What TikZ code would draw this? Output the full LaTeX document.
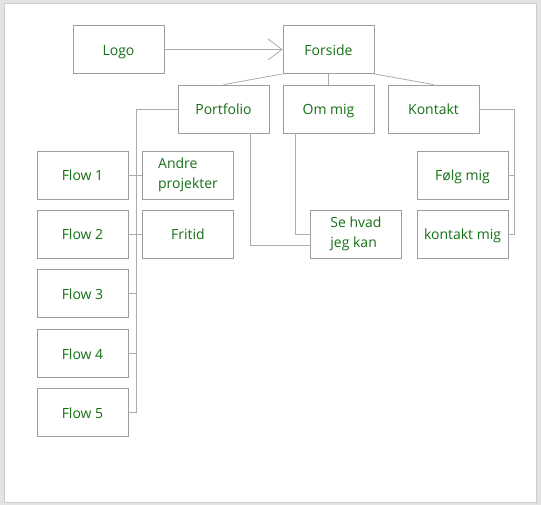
\documentclass[tikz,border=0pt]{standalone}
\usepackage{fontspec}
\setmainfont{Open Sans}
\usetikzlibrary{arrows.meta}
\definecolor{labelgreen}{RGB}{22,112,22}
\definecolor{boxgray}{RGB}{158,158,158}
\definecolor{linegray}{RGB}{172,172,172}
\tikzset{
  page/.style={x=1pt,y=-1pt,line width=0.8pt},
  box/.style={shape=rectangle,draw=boxgray,minimum width=91pt,minimum height=48pt,
    inner sep=0pt,text=labelgreen,font=\fontsize{14}{20.5}\selectfont,
    text height=12pt,text depth=0pt},
  twoline/.style={box,align=left,text height=,text depth=},
  wire/.style={draw=linegray,line width=0.8pt}
}

\begin{document}
\begin{tikzpicture}[page]
                % page frame
                \fill[gray!22](0, 0) rectangle (541, 505);
                \filldraw[fill=white,draw=gray!40](4, 3) rectangle (536.5, 502);
                \node[box](Logo)at(118.5, 49.5){Logo};
                \node[box](Forside)at(328.5, 49.5){Forside};
                \node[box](Portfolio)at(223.5, 109){Portfolio};
                \node[box](OmMig)at(328.5, 109){Om mig};
                \node[box](Kontakt)at(433.5, 109){Kontakt};
                \node[box](Flow1)at(82.5, 175){Flow 1};
                \node[box](Flow2)at(82.5, 234){Flow 2};
                \node[box](Flow3)at(82.5, 293.5){Flow 3};
                \node[box](Flow4)at(82.5, 353){Flow 4};
                \node[box](Flow5)at(82.5, 412){Flow 5};
                \node[twoline](Andre)at(188, 175){Andre\\projekter};
                \node[box](Fritid)at(188, 234){Fritid};
                \node[twoline](SeHvad)at(356, 234){Se hvad\\jeg kan};
                \node[box](Foelg)at(462.5, 175){Følg mig};
                \node[box](KontaktMig)at(462.5, 234){kontakt mig};
                \coordinate(PortBus)at(136, 412);
                \coordinate(KontaktBus)at(514, 234);
                \draw[wire,-{Straight Barb[length=14pt,width=21pt]}](Logo) -- (Forside);
                \path[wire](Forside.south west) edge (Portfolio.north)
                (Forside.south) edge (OmMig.north)
                (Forside.south east) edge (Kontakt.north);
                % portfolio bus
                \draw[wire](Portfolio.west) -| (PortBus) -- (Flow5.east);
                \path[wire](Flow1.east) edge (Andre.west)
                (Flow2.east) edge (Fritid.west)
                (Flow3.east) edge (Flow3.east -| PortBus)
                (Flow4.east) edge (Flow4.east -| PortBus);
                \draw[wire]([xshift=27pt]Portfolio.south) |- ([yshift=-11pt]SeHvad.west);
                \draw[wire]([xshift=-33.5pt]OmMig.south) |- (SeHvad.west);
                % kontakt bus
                \draw[wire](Kontakt.east) -| (KontaktBus) -- (KontaktMig.east);
                \draw[wire](Foelg.east) -- (Foelg.east -| KontaktBus);
            \end{tikzpicture}
\end{document}
